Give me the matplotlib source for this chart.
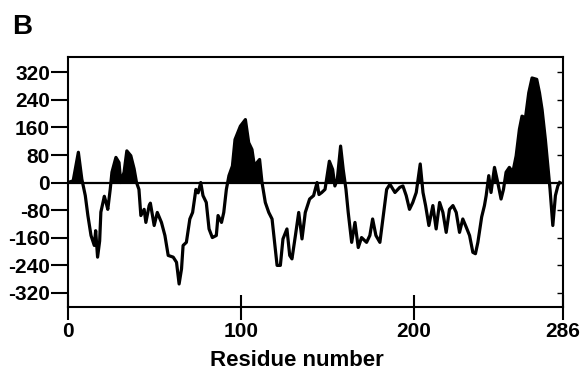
#!/usr/bin/env python3
"""
Hydropathy profile (panel B): residue number vs. hydrophobicity score.

Positive stretches are filled black, the trace itself is a heavy black line.
Saves out.png at roughly 582x374 px.
"""
from __future__ import annotations

import numpy as np
import matplotlib

matplotlib.use("Agg")
import matplotlib.pyplot as plt
from matplotlib.lines import TICKLEFT

# ── Traced profile (residue, score) ───────────────────────────────────────────
RESIDUE = [
    0, 3, 6, 8, 10, 11.5, 13.3, 15.2, 16, 17.1, 18.3, 19, 21, 22, 23, 24.4,
    25.4, 27.7, 29.5, 30.5, 32.4, 34, 36.3, 38.2, 39.6, 41, 42.1, 44, 45,
    46.9, 47.6, 49.8, 51.6, 54, 56, 57.9, 60.8, 62.7, 64.2, 65.6, 66.5, 68.4,
    70.4, 72, 73.9, 75.2, 76.7, 78, 79.9, 81.5, 83.4, 85.7, 86.7, 88.7, 90,
    91.5, 93, 95, 96.5, 97.7, 99.6, 102.5, 104.4, 106.3, 107.7, 109.2, 110.7,
    112.1, 114, 116, 117.9, 119.8, 120.8, 122.7, 124.2, 126.5, 128.1, 129.4,
    131.4, 133.3, 135.2, 137.1, 139.6, 141.9, 143.9, 145, 146.6, 148.5, 151,
    152.9, 154.2, 155.6, 157.5, 159, 160.6, 161.9, 163.9, 165.8, 167.7,
    169.6, 172.5, 174.4, 176, 177.9, 180.2, 182.2, 184.1, 186, 188.9, 191.7,
    193.5, 195.4, 197.3, 199.2, 201.2, 203.5, 205.1, 206.6, 208.5, 210.8,
    212.7, 214.7, 216.6, 218.5, 220.4, 222.4, 224.3, 226.2, 228.1, 230.1,
    232, 233.9, 235.4, 236.8, 239, 240.6, 241.6, 243.1, 244.4, 246.4, 248.3,
    250.2, 251.6, 253.1, 255, 257, 258.9, 260.8, 262.3, 264.3, 266.2, 268.1,
    270.8, 272.4, 273.9, 275.8, 277.2, 278.5, 280.1, 281.6, 283, 284,
]
SCORE = [
    0, 5, 88, 10, -38, -96, -154, -183, -140, -217, -170, -86, -40, -58, -78,
    -20, 30, 73, 58, 0, 30, 92, 78, 40, 0, -20, -96, -78, -116, -67, -60,
    -125, -87, -116, -154, -212, -217, -232, -295, -251, -183, -174, -106,
    -87, -20, -30, 0, -38, -58, -135, -160, -154, -96, -116, -87, -20, 20,
    48, 125, 140, 164, 183, 116, 96, 48, 58, 67, 0, -58, -87, -106, -193,
    -241, -241, -164, -135, -212, -222, -154, -87, -164, -87, -48, -38, 0,
    -35, -29, -20, 62, 38, -10, 10, 106, 38, -20, -87, -174, -116, -189,
    -160, -174, -154, -106, -154, -174, -96, -20, -5, -29, -14, -10, -38,
    -78, -58, -29, 54, -29, -67, -125, -67, -135, -58, -87, -145, -78, -67,
    -87, -145, -106, -130, -154, -203, -207, -174, -100, -67, -38, 20, -29,
    44, 0, -48, -20, 30, 44, 30, 77, 155, 193, 188, 261, 304, 300, 261, 212,
    125, 48, -20, -125, -38, -10, 0,
]

Y_TICKS = [320, 240, 160, 80, 0, -80, -160, -240, -320]
X_TICKS = [0, 100, 200, 286]
X_LABEL = "Residue number"
PANEL = "B"

FONT = "Liberation Sans"


def plot_profile(out_path: str) -> None:
    x = np.asarray(RESIDUE, dtype=float)
    y = np.asarray(SCORE, dtype=float)

    fig = plt.figure(figsize=(5.82, 3.74), dpi=100)
    ax = fig.add_axes([0.1168, 0.1791, 0.8506, 0.6685])

    # filled hydrophobic stretches, then the trace on top
    ax.fill_between(x, y, 0, where=y > 0, interpolate=True,
                    color="black", linewidth=0)
    ax.plot(x, y, color="black", lw=2.3, solid_joinstyle="round")
    ax.axhline(0, color="black", lw=1.6)

    ax.set_xlim(0, 286)
    ax.set_ylim(-362, 365)

    for side in ("left", "right", "top", "bottom"):
        ax.spines[side].set_linewidth(1.5)

    ax.set_yticks(Y_TICKS)
    ax.set_yticklabels([str(v) for v in Y_TICKS])
    ax.set_xticks(X_TICKS)
    ax.set_xticklabels([str(v) for v in X_TICKS])

    ax.tick_params(axis="y", which="major", direction="out", length=12,
                   width=1.5, pad=1, right=True, labelsize=15)
    ax.tick_params(axis="x", which="major", direction="inout", length=18,
                   width=1.5, pad=2, labelsize=15)
    for lbl in ax.get_xticklabels() + ax.get_yticklabels():
        lbl.set_fontfamily(FONT)
        lbl.set_fontweight("bold")

    # small inward marks on the right frame
    for tick in ax.yaxis.get_major_ticks():
        tick.tick2line.set_marker(TICKLEFT)
        tick.tick2line.set_markersize(4)
        tick.tick2line.set_markeredgewidth(1.0)

    ax.set_xlabel(X_LABEL, fontsize=16, fontweight="bold", family=FONT,
                  va="center")
    ax.xaxis.set_label_coords(0.463, -0.212)

    fig.text(0.021, 0.928, PANEL, fontsize=20, fontweight="bold",
             family=FONT, ha="left", va="center")

    fig.savefig(out_path, dpi=100)


if __name__ == "__main__":
    plot_profile("out.png")
